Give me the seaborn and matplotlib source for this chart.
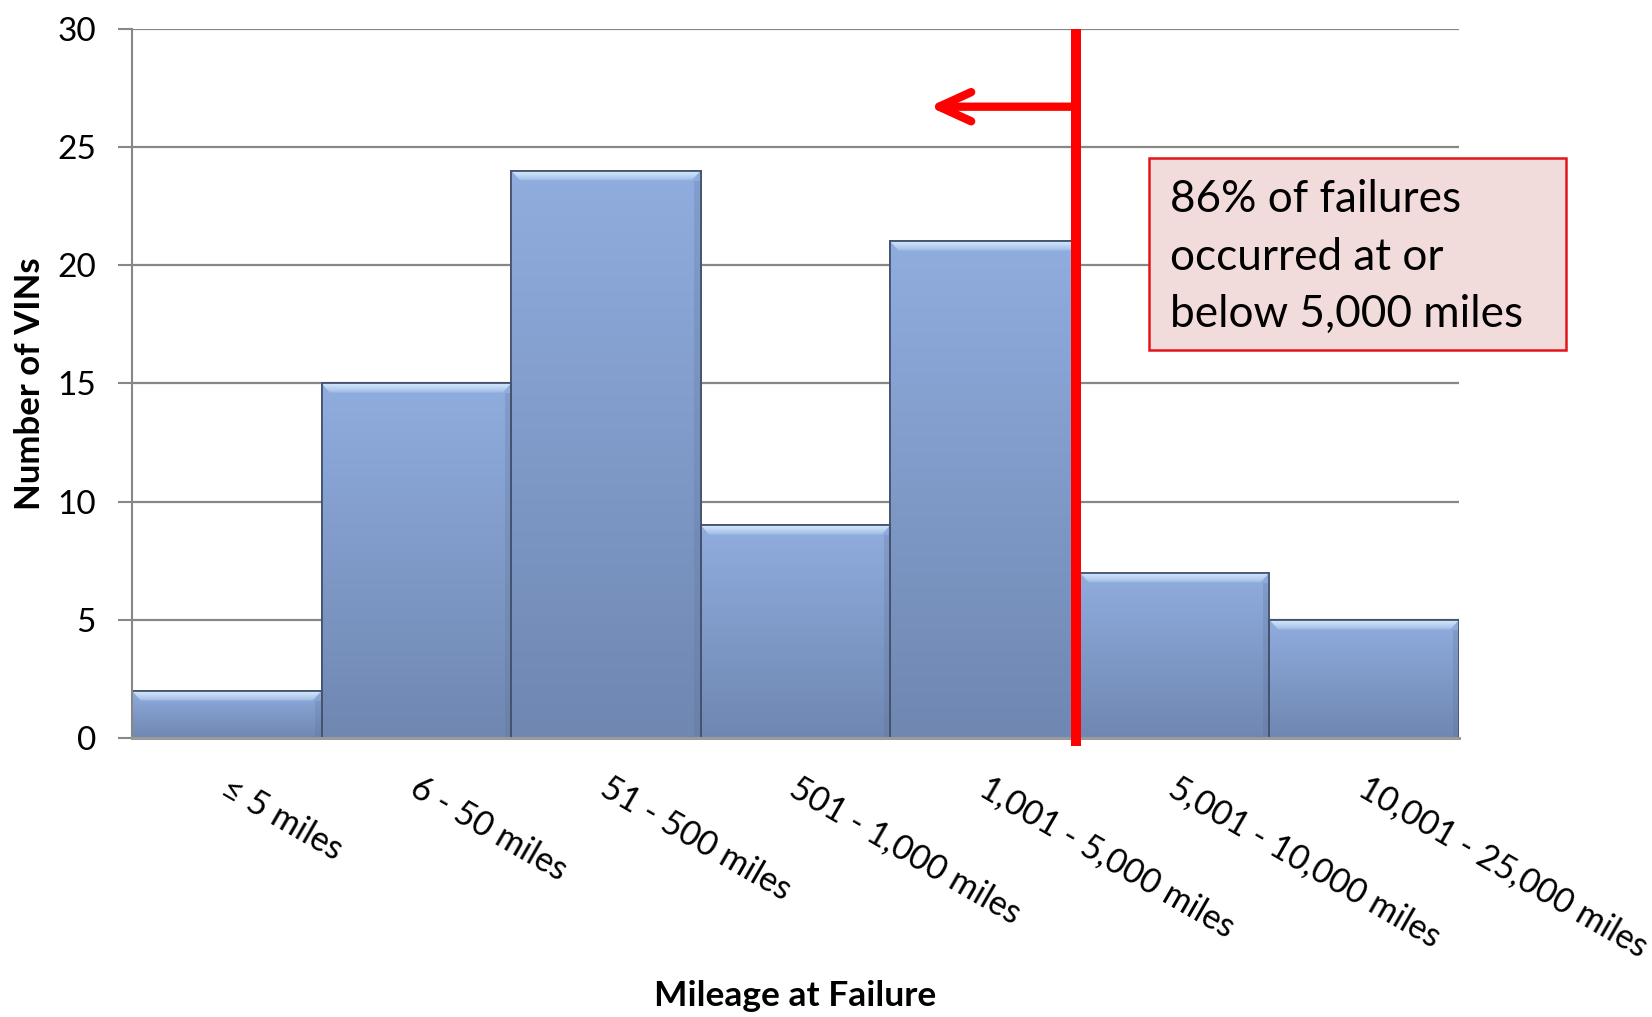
import numpy as np
import pandas as pd
import matplotlib
matplotlib.use("Agg")
import matplotlib.pyplot as plt
import seaborn as sns
from matplotlib.patches import Rectangle, Polygon
from matplotlib.colors import to_rgb
from matplotlib.transforms import ScaledTranslation

# ---- data -------------------------------------------------------------
mileage_bins = ["≤ 5 miles", "6 - 50 miles", "51 - 500 miles", "501 - 1,000 miles",
                "1,001 - 5,000 miles", "5,001 - 10,000 miles", "10,001 - 25,000 miles"]
vin_counts = [2, 15, 24, 9, 21, 7, 5]
y_ticks = [0, 5, 10, 15, 20, 25, 30]
callout_lines = ["86% of failures", "occurred at or", "below 5,000 miles"]
x_title = "Mileage at Failure"
y_title = "Number of VINs"

# ---- style ------------------------------------------------------------
sns.set_theme(style="white")
plt.rcParams["font.family"] = ["Lato", "DejaVu Sans"]

GRID = "#878787"
RED = "#ff0000"
BAR_TOP = np.array(to_rgb("#90addf"))
BAR_BOTTOM = np.array(to_rgb("#6f87b1"))
BEVEL_LIGHT = np.array(to_rgb("#d2e7fb"))

fig = plt.figure(figsize=(16.52, 10.17), dpi=100)
ax = fig.add_axes([0.0799, 0.2743, 0.8033, 0.6975])

df = pd.DataFrame({"bin": mileage_bins, "count": vin_counts})
sns.barplot(data=df, x="bin", y="count", color="#7f9bcc", saturation=1,
            width=1.0, edgecolor="#45536f", linewidth=1.3, ax=ax, zorder=2)

ax.set_xlim(-0.5, len(mileage_bins) - 0.5)
ax.set_ylim(0, 30)

# pixel -> data scale for the bevel effect
fig.canvas.draw()
p0 = ax.transData.transform((0, 0))
p1 = ax.transData.transform((1, 1))
px_x = 1.0 / (p1[0] - p0[0])
px_y = 1.0 / (p1[1] - p0[1])
bev_x, bev_y = 9 * px_x, 10 * px_y

# vertical gradient fill and a light top bevel on every bar
t = np.linspace(0, 1, 200)[:, None, None]
body = BAR_BOTTOM + (BAR_TOP - BAR_BOTTOM) * t
body = np.repeat(body, 2, axis=1)
band_t = np.linspace(0, 1, 40)[:, None, None]
band = BAR_TOP + (BEVEL_LIGHT - BAR_TOP) * band_t ** 0.6
band = np.repeat(band, 2, axis=1)
for bar in list(ax.patches):
    x0, y0 = bar.get_x(), bar.get_y()
    w, h = bar.get_width(), bar.get_height()
    im = ax.imshow(body, extent=[x0, x0 + w, y0, y0 + h], origin="lower",
                   aspect="auto", interpolation="bilinear", zorder=2.1)
    im.set_clip_path(bar)
    top = y0 + h
    trap = Polygon([(x0, top), (x0 + w, top), (x0 + w - bev_x, top - bev_y),
                    (x0 + bev_x, top - bev_y)], closed=True, fc="none", ec="none")
    ax.add_patch(trap)
    bim = ax.imshow(band, extent=[x0, x0 + w, top - bev_y, top], origin="lower",
                    aspect="auto", interpolation="bilinear", zorder=2.2)
    bim.set_clip_path(trap)
    # right side shade
    side = Rectangle((x0 + w - bev_x * 0.7, y0), bev_x * 0.7, h - bev_y,
                     fc="#5d7298", ec="none", alpha=0.25, zorder=2.25)
    ax.add_patch(side)
    outline = Rectangle((x0, y0), w, h, fc="none", ec="#45536f", lw=1.3, zorder=2.3)
    ax.add_patch(outline)

ax.set_xlim(-0.5, len(mileage_bins) - 0.5)
ax.set_ylim(0, 30)

# ---- axes decoration --------------------------------------------------
ax.set_axisbelow(True)
ax.yaxis.grid(True, color=GRID, lw=1.6)
ax.xaxis.grid(False)
ax.set_yticks(y_ticks)
ax.set_yticklabels([str(v) for v in y_ticks])
ax.tick_params(axis="y", left=True, length=10, width=1.5, color=GRID,
               pad=16, labelsize=24, labelcolor="black", direction="out")
ax.set_xticks(range(len(mileage_bins)))
ax.set_xticklabels(mileage_bins, rotation=-30, ha="left", va="top",
                   rotation_mode="anchor")
ax.tick_params(axis="x", bottom=False, length=0, pad=24, labelsize=24.5,
               labelcolor="black")
nudge = ScaledTranslation(5 / 100, 0, fig.dpi_scale_trans)
for lbl in ax.get_xticklabels():
    lbl.set_transform(lbl.get_transform() + nudge)

for side_name in ("top", "right"):
    ax.spines[side_name].set_visible(False)
ax.spines["left"].set_color(GRID)
ax.spines["left"].set_linewidth(1.5)
ax.spines["bottom"].set_color("#9a9a9a")
ax.spines["bottom"].set_linewidth(2.2)
ax.spines["bottom"].set_zorder(3)

ax.set_xlabel(x_title, fontsize=25.5, fontweight="bold", color="black")
ax.xaxis.set_label_coords(0.5, -0.3637)
ax.xaxis.label.set_va("center")
ax.set_ylabel(y_title, fontsize=25, fontweight="bold", color="black")
ax.yaxis.set_label_coords(-0.0769, 0.5)
ax.yaxis.label.set_va("center")

# ---- 5,000-mile threshold marker --------------------------------------
threshold_x = 4.48
ax.plot([threshold_x, threshold_x], [-0.34, 30], color=RED, lw=7.2,
        solid_capstyle="butt", clip_on=False, zorder=5)
ax.annotate("", xy=(3.705, 26.7), xytext=(threshold_x, 26.7),
            arrowprops=dict(arrowstyle="->,head_length=2.3,head_width=1.05",
                            color=RED, lw=6, shrinkA=0, shrinkB=0,
                            mutation_scale=10, capstyle="round",
                            joinstyle="round"),
            annotation_clip=False, zorder=5)

# ---- callout box ------------------------------------------------------
box = Rectangle((4.864, 16.42), 7.065 - 4.864, 24.55 - 16.42, fc="#f2dcdb",
                ec="#e3151b", lw=1.8, clip_on=False, zorder=4)
ax.add_patch(box)
for line, y in zip(callout_lines, [22.26, 19.80, 17.38]):
    ax.text(4.976, y, line, fontsize=31.8, color="black", ha="left",
            va="baseline", zorder=6, clip_on=False)

fig.savefig("out.png", dpi=100, facecolor="white")
